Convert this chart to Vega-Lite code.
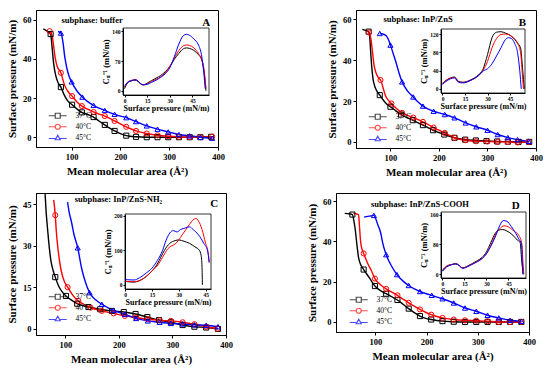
{
"$schema": "https://vega.github.io/schema/vega-lite/v6.json",
"padding": {"left": 5, "top": 9, "right": 0, "bottom": 0},
"config": {
 "view": {"stroke": "black", "strokeWidth": 1},
 "font": "Liberation Serif",
 "axis": {"grid": false, "labelFont": "Liberation Serif", "labelFontWeight": "bold", "labelFontSize": 8.5, "labelColor": "black", "titleFont": "Liberation Serif", "titleFontWeight": "bold", "titleFontSize": 11, "titleColor": "black", "domainColor": "black", "tickColor": "black", "tickSize": 3, "labelPadding": 2, "titlePadding": 5, "labelFlush": false},
 "legend": {"orient": "bottom-left", "title": null, "symbolSize": 25, "symbolStrokeWidth": 1.2, "symbolOffset": 14, "labelOffset": 14, "labelFont": "Liberation Serif", "labelFontSize": 7.5, "labelColor": "black", "rowPadding": 0, "padding": 0}
},
"datasets": {
 "A_line": [
  {"T":"37°C","x":42,"y":55.4},{"T":"37°C","x":50,"y":54.2},{"T":"37°C","x":57,"y":52.7},{"T":"37°C","x":60,"y":46},{"T":"37°C","x":63,"y":38},{"T":"37°C","x":67,"y":32},{"T":"37°C","x":72,"y":28},{"T":"37°C","x":78,"y":25.6},{"T":"37°C","x":85,"y":21.5},{"T":"37°C","x":92,"y":18.6},{"T":"37°C","x":101,"y":16.6},{"T":"37°C","x":110,"y":14.6},{"T":"37°C","x":121,"y":12.7},{"T":"37°C","x":133,"y":11.6},{"T":"37°C","x":145,"y":10.3},{"T":"37°C","x":156,"y":8.3},{"T":"37°C","x":168,"y":6.3},{"T":"37°C","x":178,"y":4.6},{"T":"37°C","x":188,"y":3.2},{"T":"37°C","x":200,"y":1.8},{"T":"37°C","x":212,"y":0.8},{"T":"37°C","x":232,"y":0.2},{"T":"37°C","x":254,"y":0},{"T":"37°C","x":276,"y":0},{"T":"37°C","x":298,"y":0},{"T":"37°C","x":320,"y":0},{"T":"37°C","x":342,"y":0},{"T":"37°C","x":364,"y":0},{"T":"37°C","x":386,"y":0.2},
  {"T":"40°C","x":55,"y":54.2},{"T":"40°C","x":60,"y":52},{"T":"40°C","x":63,"y":47},{"T":"40°C","x":66,"y":41},{"T":"40°C","x":70,"y":36.5},{"T":"40°C","x":78,"y":32.9},{"T":"40°C","x":85,"y":27},{"T":"40°C","x":92,"y":23.5},{"T":"40°C","x":101,"y":21},{"T":"40°C","x":111,"y":18},{"T":"40°C","x":121,"y":15.9},{"T":"40°C","x":133,"y":14.3},{"T":"40°C","x":145,"y":12.9},{"T":"40°C","x":156,"y":11.8},{"T":"40°C","x":168,"y":10.8},{"T":"40°C","x":178,"y":9.6},{"T":"40°C","x":188,"y":8.3},{"T":"40°C","x":200,"y":6.8},{"T":"40°C","x":212,"y":5.3},{"T":"40°C","x":222,"y":4.2},{"T":"40°C","x":232,"y":3.2},{"T":"40°C","x":254,"y":1.9},{"T":"40°C","x":276,"y":1},{"T":"40°C","x":298,"y":0.5},{"T":"40°C","x":320,"y":0.2},{"T":"40°C","x":342,"y":0},{"T":"40°C","x":364,"y":0},{"T":"40°C","x":388,"y":0.3},
  {"T":"45°C","x":72,"y":54},{"T":"45°C","x":78,"y":53.2},{"T":"45°C","x":82,"y":49},{"T":"45°C","x":86,"y":41},{"T":"45°C","x":90,"y":35.5},{"T":"45°C","x":95,"y":31},{"T":"45°C","x":100,"y":28.3},{"T":"45°C","x":111,"y":23.6},{"T":"45°C","x":122,"y":20.5},{"T":"45°C","x":133,"y":18.2},{"T":"45°C","x":145,"y":16.3},{"T":"45°C","x":156,"y":14.9},{"T":"45°C","x":168,"y":13.7},{"T":"45°C","x":178,"y":12.6},{"T":"45°C","x":188,"y":11.7},{"T":"45°C","x":200,"y":10.8},{"T":"45°C","x":212,"y":10},{"T":"45°C","x":222,"y":9},{"T":"45°C","x":232,"y":8},{"T":"45°C","x":254,"y":5.8},{"T":"45°C","x":276,"y":4.1},{"T":"45°C","x":298,"y":2.7},{"T":"45°C","x":320,"y":1.4},{"T":"45°C","x":342,"y":0.7},{"T":"45°C","x":364,"y":0},{"T":"45°C","x":388,"y":-0.5}
 ],
 "A_pts": [
  {"T":"37°C","x":57,"y":52.7},{"T":"37°C","x":78,"y":25.6},{"T":"37°C","x":101,"y":16.6},{"T":"37°C","x":121,"y":12.7},{"T":"37°C","x":145,"y":10.3},{"T":"37°C","x":168,"y":6.3},{"T":"37°C","x":188,"y":3.2},{"T":"37°C","x":212,"y":0.8},{"T":"37°C","x":232,"y":0.2},{"T":"37°C","x":254,"y":0},{"T":"37°C","x":276,"y":0},{"T":"37°C","x":298,"y":0},{"T":"37°C","x":320,"y":0},{"T":"37°C","x":342,"y":0},{"T":"37°C","x":364,"y":0},{"T":"37°C","x":386,"y":0.2},
  {"T":"40°C","x":55,"y":54.2},{"T":"40°C","x":78,"y":32.9},{"T":"40°C","x":101,"y":21},{"T":"40°C","x":121,"y":15.9},{"T":"40°C","x":145,"y":12.9},{"T":"40°C","x":168,"y":10.8},{"T":"40°C","x":188,"y":8.3},{"T":"40°C","x":212,"y":5.3},{"T":"40°C","x":232,"y":3.2},{"T":"40°C","x":254,"y":1.9},{"T":"40°C","x":276,"y":1},{"T":"40°C","x":298,"y":0.5},{"T":"40°C","x":320,"y":0.2},{"T":"40°C","x":342,"y":0},{"T":"40°C","x":364,"y":0},{"T":"40°C","x":388,"y":0.3},
  {"T":"45°C","x":78,"y":53.2},{"T":"45°C","x":100,"y":28.3},{"T":"45°C","x":122,"y":20.5},{"T":"45°C","x":145,"y":16.3},{"T":"45°C","x":168,"y":13.7},{"T":"45°C","x":188,"y":11.7},{"T":"45°C","x":212,"y":10},{"T":"45°C","x":232,"y":8},{"T":"45°C","x":254,"y":5.8},{"T":"45°C","x":276,"y":4.1},{"T":"45°C","x":298,"y":2.7},{"T":"45°C","x":320,"y":1.4},{"T":"45°C","x":342,"y":0.7},{"T":"45°C","x":364,"y":0},{"T":"45°C","x":388,"y":-0.5}
 ],
 "A_in": [
  {"T":"37°C","x":0,"y":5},{"T":"37°C","x":2,"y":18},{"T":"37°C","x":5,"y":24},{"T":"37°C","x":7,"y":25},{"T":"37°C","x":9,"y":22},{"T":"37°C","x":10,"y":18},{"T":"37°C","x":11,"y":15},{"T":"37°C","x":12.5,"y":14},{"T":"37°C","x":15,"y":18},{"T":"37°C","x":18,"y":24},{"T":"37°C","x":21,"y":30},{"T":"37°C","x":24,"y":36},{"T":"37°C","x":27,"y":45},{"T":"37°C","x":30,"y":57},{"T":"37°C","x":33,"y":74},{"T":"37°C","x":36,"y":88},{"T":"37°C","x":39,"y":99},{"T":"37°C","x":41,"y":101},{"T":"37°C","x":43,"y":100},{"T":"37°C","x":46,"y":95},{"T":"37°C","x":49,"y":85},{"T":"37°C","x":51,"y":75},{"T":"37°C","x":52.5,"y":50},{"T":"37°C","x":53.5,"y":20},{"T":"37°C","x":54,"y":0},
  {"T":"40°C","x":0,"y":8},{"T":"40°C","x":2,"y":20},{"T":"40°C","x":5,"y":25},{"T":"40°C","x":7,"y":26},{"T":"40°C","x":9,"y":23},{"T":"40°C","x":10,"y":19},{"T":"40°C","x":11,"y":16},{"T":"40°C","x":12.5,"y":14},{"T":"40°C","x":15,"y":16},{"T":"40°C","x":18,"y":22},{"T":"40°C","x":21,"y":27},{"T":"40°C","x":24,"y":33},{"T":"40°C","x":27,"y":42},{"T":"40°C","x":30,"y":57},{"T":"40°C","x":33,"y":77},{"T":"40°C","x":36,"y":95},{"T":"40°C","x":39,"y":106},{"T":"40°C","x":41,"y":108},{"T":"40°C","x":43,"y":107},{"T":"40°C","x":46,"y":101},{"T":"40°C","x":49,"y":88},{"T":"40°C","x":51,"y":75},{"T":"40°C","x":52.5,"y":55},{"T":"40°C","x":53.5,"y":25},{"T":"40°C","x":54,"y":5},
  {"T":"45°C","x":0,"y":10},{"T":"45°C","x":2,"y":20},{"T":"45°C","x":5,"y":24},{"T":"45°C","x":7,"y":26},{"T":"45°C","x":9,"y":23},{"T":"45°C","x":10,"y":19},{"T":"45°C","x":11,"y":16},{"T":"45°C","x":12.5,"y":14},{"T":"45°C","x":15,"y":15},{"T":"45°C","x":18,"y":20},{"T":"45°C","x":21,"y":25},{"T":"45°C","x":24,"y":32},{"T":"45°C","x":27,"y":40},{"T":"45°C","x":30,"y":54},{"T":"45°C","x":33,"y":80},{"T":"45°C","x":36,"y":110},{"T":"45°C","x":39,"y":130},{"T":"45°C","x":41,"y":133},{"T":"45°C","x":43,"y":131},{"T":"45°C","x":46,"y":122},{"T":"45°C","x":49,"y":108},{"T":"45°C","x":51,"y":85},{"T":"45°C","x":52,"y":60},{"T":"45°C","x":53,"y":25},{"T":"45°C","x":53.5,"y":5}
 ],
 "B_line": [
  {"T":"37°C","x":42,"y":55.1},{"T":"37°C","x":50,"y":54.5},{"T":"37°C","x":55,"y":54},{"T":"37°C","x":57,"y":52},{"T":"37°C","x":59,"y":45},{"T":"37°C","x":61,"y":38},{"T":"37°C","x":64,"y":31},{"T":"37°C","x":68,"y":27},{"T":"37°C","x":73,"y":24.5},{"T":"37°C","x":78,"y":22.9},{"T":"37°C","x":85,"y":20.5},{"T":"37°C","x":92,"y":18.6},{"T":"37°C","x":100,"y":17.2},{"T":"37°C","x":111,"y":15.2},{"T":"37°C","x":122,"y":13.4},{"T":"37°C","x":134,"y":11.9},{"T":"37°C","x":146,"y":10.6},{"T":"37°C","x":156,"y":9.4},{"T":"37°C","x":167,"y":8.2},{"T":"37°C","x":177,"y":7},{"T":"37°C","x":188,"y":5.7},{"T":"37°C","x":200,"y":4.6},{"T":"37°C","x":211,"y":3.6},{"T":"37°C","x":222,"y":2.7},{"T":"37°C","x":232,"y":2},{"T":"37°C","x":254,"y":1.1},{"T":"37°C","x":276,"y":0.7},{"T":"37°C","x":298,"y":0.4},{"T":"37°C","x":320,"y":0.2},{"T":"37°C","x":342,"y":0.1},{"T":"37°C","x":364,"y":0},{"T":"37°C","x":386,"y":0},
  {"T":"40°C","x":54,"y":54},{"T":"40°C","x":56,"y":53.6},{"T":"40°C","x":60,"y":50},{"T":"40°C","x":63,"y":44},{"T":"40°C","x":66,"y":38},{"T":"40°C","x":70,"y":34},{"T":"40°C","x":75,"y":31.5},{"T":"40°C","x":79.5,"y":30.3},{"T":"40°C","x":90,"y":22.5},{"T":"40°C","x":102,"y":18.8},{"T":"40°C","x":113,"y":16.2},{"T":"40°C","x":124,"y":14.2},{"T":"40°C","x":135,"y":13},{"T":"40°C","x":147,"y":11.9},{"T":"40°C","x":157,"y":10.9},{"T":"40°C","x":167,"y":9.8},{"T":"40°C","x":178,"y":8.5},{"T":"40°C","x":189,"y":7},{"T":"40°C","x":200,"y":5.7},{"T":"40°C","x":212,"y":4.4},{"T":"40°C","x":222,"y":3.2},{"T":"40°C","x":232,"y":2},{"T":"40°C","x":255,"y":0.8},{"T":"40°C","x":277,"y":0.3},{"T":"40°C","x":300,"y":0.2},{"T":"40°C","x":321,"y":0},{"T":"40°C","x":342,"y":0},{"T":"40°C","x":362,"y":-0.3},{"T":"40°C","x":385,"y":0},
  {"T":"45°C","x":78,"y":53.1},{"T":"45°C","x":85,"y":52.8},{"T":"45°C","x":92,"y":51.8},{"T":"45°C","x":96,"y":50},{"T":"45°C","x":100,"y":47.4},{"T":"45°C","x":106,"y":43},{"T":"45°C","x":112,"y":38.5},{"T":"45°C","x":118,"y":33.5},{"T":"45°C","x":124,"y":29.4},{"T":"45°C","x":135,"y":25},{"T":"45°C","x":147,"y":22},{"T":"45°C","x":157,"y":19.5},{"T":"45°C","x":167,"y":17.5},{"T":"45°C","x":178,"y":16},{"T":"45°C","x":189,"y":15},{"T":"45°C","x":200,"y":14.2},{"T":"45°C","x":212,"y":13.4},{"T":"45°C","x":232,"y":11.8},{"T":"45°C","x":255,"y":9.3},{"T":"45°C","x":277,"y":7.4},{"T":"45°C","x":300,"y":5.7},{"T":"45°C","x":321,"y":3.6},{"T":"45°C","x":342,"y":2.1},{"T":"45°C","x":362,"y":1.1},{"T":"45°C","x":385,"y":0.3}
 ],
 "B_pts": [
  {"T":"37°C","x":55,"y":54},{"T":"37°C","x":78,"y":22.9},{"T":"37°C","x":100,"y":17.2},{"T":"37°C","x":122,"y":13.4},{"T":"37°C","x":146,"y":10.6},{"T":"37°C","x":167,"y":8.2},{"T":"37°C","x":188,"y":5.7},{"T":"37°C","x":211,"y":3.6},{"T":"37°C","x":232,"y":2},{"T":"37°C","x":254,"y":1.1},{"T":"37°C","x":276,"y":0.7},{"T":"37°C","x":298,"y":0.4},{"T":"37°C","x":320,"y":0.2},{"T":"37°C","x":342,"y":0.1},{"T":"37°C","x":364,"y":0},{"T":"37°C","x":386,"y":0},
  {"T":"40°C","x":56,"y":53.6},{"T":"40°C","x":79.5,"y":30.3},{"T":"40°C","x":102,"y":18.8},{"T":"40°C","x":124,"y":14.2},{"T":"40°C","x":147,"y":11.9},{"T":"40°C","x":167,"y":9.8},{"T":"40°C","x":189,"y":7},{"T":"40°C","x":212,"y":4.4},{"T":"40°C","x":232,"y":2},{"T":"40°C","x":255,"y":0.8},{"T":"40°C","x":277,"y":0.3},{"T":"40°C","x":300,"y":0.2},{"T":"40°C","x":321,"y":0},{"T":"40°C","x":342,"y":0},{"T":"40°C","x":362,"y":-0.3},{"T":"40°C","x":385,"y":0},
  {"T":"45°C","x":78,"y":53.1},{"T":"45°C","x":100,"y":47.4},{"T":"45°C","x":124,"y":29.4},{"T":"45°C","x":147,"y":22},{"T":"45°C","x":167,"y":17.5},{"T":"45°C","x":189,"y":15},{"T":"45°C","x":212,"y":13.4},{"T":"45°C","x":232,"y":11.8},{"T":"45°C","x":255,"y":9.3},{"T":"45°C","x":277,"y":7.4},{"T":"45°C","x":300,"y":5.7},{"T":"45°C","x":321,"y":3.6},{"T":"45°C","x":342,"y":2.1},{"T":"45°C","x":362,"y":1.1},{"T":"45°C","x":385,"y":0.3}
 ],
 "B_in": [
  {"T":"37°C","x":0,"y":12},{"T":"37°C","x":3,"y":20},{"T":"37°C","x":8,"y":26},{"T":"37°C","x":10.5,"y":17},{"T":"37°C","x":13.6,"y":14.5},{"T":"37°C","x":19,"y":20},{"T":"37°C","x":24,"y":31},{"T":"37°C","x":27,"y":43},{"T":"37°C","x":30,"y":75},{"T":"37°C","x":33,"y":112},{"T":"37°C","x":36,"y":124},{"T":"37°C","x":39,"y":125},{"T":"37°C","x":42,"y":122},{"T":"37°C","x":46,"y":115},{"T":"37°C","x":50,"y":100},{"T":"37°C","x":52,"y":90},{"T":"37°C","x":53.5,"y":40},{"T":"37°C","x":54.5,"y":0},
  {"T":"40°C","x":0,"y":12},{"T":"40°C","x":3,"y":20},{"T":"40°C","x":8,"y":25},{"T":"40°C","x":10.5,"y":16},{"T":"40°C","x":13.6,"y":14},{"T":"40°C","x":19,"y":19},{"T":"40°C","x":24,"y":29},{"T":"40°C","x":27,"y":40},{"T":"40°C","x":30,"y":60},{"T":"40°C","x":33,"y":90},{"T":"40°C","x":36,"y":110},{"T":"40°C","x":39,"y":119},{"T":"40°C","x":42,"y":120},{"T":"40°C","x":46,"y":115},{"T":"40°C","x":50,"y":100},{"T":"40°C","x":52,"y":80},{"T":"40°C","x":53.5,"y":20},{"T":"40°C","x":54,"y":0},
  {"T":"45°C","x":0,"y":10},{"T":"45°C","x":3,"y":18},{"T":"45°C","x":8,"y":24},{"T":"45°C","x":10.5,"y":15},{"T":"45°C","x":13.6,"y":13},{"T":"45°C","x":19,"y":19},{"T":"45°C","x":24,"y":29},{"T":"45°C","x":27.5,"y":40},{"T":"45°C","x":30,"y":44},{"T":"45°C","x":33,"y":55},{"T":"45°C","x":36,"y":72},{"T":"45°C","x":39,"y":90},{"T":"45°C","x":42,"y":108},{"T":"45°C","x":44,"y":112},{"T":"45°C","x":46,"y":110},{"T":"45°C","x":48,"y":100},{"T":"45°C","x":50,"y":80},{"T":"45°C","x":51.5,"y":40},{"T":"45°C","x":52.5,"y":0}
 ],
 "C_line": [
  {"T":"37°C","x":62,"y":48.6},{"T":"37°C","x":64,"y":42},{"T":"37°C","x":67,"y":35.2},{"T":"37°C","x":70,"y":29},{"T":"37°C","x":73,"y":24.4},{"T":"37°C","x":77,"y":21},{"T":"37°C","x":81,"y":18.6},{"T":"37°C","x":87,"y":15.5},{"T":"37°C","x":94,"y":13.3},{"T":"37°C","x":101,"y":11.8},{"T":"37°C","x":112,"y":10.2},{"T":"37°C","x":122,"y":9},{"T":"37°C","x":143,"y":7.8},{"T":"37°C","x":165,"y":7},{"T":"37°C","x":187,"y":6.4},{"T":"37°C","x":209,"y":6},{"T":"37°C","x":231,"y":5.3},{"T":"37°C","x":253,"y":4.2},{"T":"37°C","x":275,"y":3.1},{"T":"37°C","x":297,"y":2.3},{"T":"37°C","x":319,"y":1.3},{"T":"37°C","x":341,"y":0.7},{"T":"37°C","x":363,"y":0.4},{"T":"37°C","x":385,"y":-0.1},
  {"T":"40°C","x":78,"y":46.5},{"T":"40°C","x":81,"y":41},{"T":"40°C","x":83,"y":35},{"T":"40°C","x":86,"y":29},{"T":"40°C","x":92,"y":21},{"T":"40°C","x":98,"y":17},{"T":"40°C","x":104,"y":15},{"T":"40°C","x":114,"y":12},{"T":"40°C","x":124,"y":10},{"T":"40°C","x":135,"y":8.7},{"T":"40°C","x":147,"y":7.6},{"T":"40°C","x":168,"y":6.4},{"T":"40°C","x":190,"y":5.5},{"T":"40°C","x":211,"y":4.6},{"T":"40°C","x":232,"y":4},{"T":"40°C","x":254,"y":3.4},{"T":"40°C","x":276,"y":3},{"T":"40°C","x":297,"y":2.8},{"T":"40°C","x":319,"y":2.3},{"T":"40°C","x":341,"y":1.6},{"T":"40°C","x":363,"y":0.7},{"T":"40°C","x":384,"y":0},
  {"T":"45°C","x":104,"y":45.7},{"T":"45°C","x":107,"y":42},{"T":"45°C","x":111,"y":38.8},{"T":"45°C","x":116,"y":34},{"T":"45°C","x":123,"y":29.2},{"T":"45°C","x":130,"y":22},{"T":"45°C","x":137,"y":17},{"T":"45°C","x":145,"y":13},{"T":"45°C","x":156,"y":10.5},{"T":"45°C","x":168,"y":8.8},{"T":"45°C","x":179,"y":7.6},{"T":"45°C","x":190,"y":6.6},{"T":"45°C","x":211,"y":5.2},{"T":"45°C","x":232,"y":3.7},{"T":"45°C","x":254,"y":2.8},{"T":"45°C","x":276,"y":2.3},{"T":"45°C","x":297,"y":1.9},{"T":"45°C","x":319,"y":1.7},{"T":"45°C","x":341,"y":1.4},{"T":"45°C","x":363,"y":1.2},{"T":"45°C","x":385,"y":0.7}
 ],
 "C_pts": [
  {"T":"37°C","x":81,"y":18.6},{"T":"37°C","x":101,"y":11.8},{"T":"37°C","x":122,"y":9},{"T":"37°C","x":143,"y":7.8},{"T":"37°C","x":165,"y":7},{"T":"37°C","x":187,"y":6.4},{"T":"37°C","x":209,"y":6},{"T":"37°C","x":231,"y":5.3},{"T":"37°C","x":253,"y":4.2},{"T":"37°C","x":275,"y":3.1},{"T":"37°C","x":297,"y":2.3},{"T":"37°C","x":319,"y":1.3},{"T":"37°C","x":341,"y":0.7},{"T":"37°C","x":363,"y":0.4},{"T":"37°C","x":385,"y":-0.1},
  {"T":"40°C","x":81,"y":41},{"T":"40°C","x":104,"y":15},{"T":"40°C","x":124,"y":10},{"T":"40°C","x":147,"y":7.6},{"T":"40°C","x":168,"y":6.4},{"T":"40°C","x":190,"y":5.5},{"T":"40°C","x":211,"y":4.6},{"T":"40°C","x":232,"y":4},{"T":"40°C","x":254,"y":3.4},{"T":"40°C","x":276,"y":3},{"T":"40°C","x":297,"y":2.8},{"T":"40°C","x":319,"y":2.3},{"T":"40°C","x":341,"y":1.6},{"T":"40°C","x":363,"y":0.7},{"T":"40°C","x":384,"y":0},
  {"T":"45°C","x":123,"y":29.2},{"T":"45°C","x":145,"y":13},{"T":"45°C","x":168,"y":8.8},{"T":"45°C","x":190,"y":6.6},{"T":"45°C","x":211,"y":5.2},{"T":"45°C","x":232,"y":3.7},{"T":"45°C","x":254,"y":2.8},{"T":"45°C","x":276,"y":2.3},{"T":"45°C","x":297,"y":1.9},{"T":"45°C","x":319,"y":1.7},{"T":"45°C","x":341,"y":1.4},{"T":"45°C","x":363,"y":1.2},{"T":"45°C","x":385,"y":0.7}
 ],
 "C_in": [
  {"T":"37°C","x":0,"y":10},{"T":"37°C","x":5,"y":8},{"T":"37°C","x":8,"y":12},{"T":"37°C","x":12,"y":25},{"T":"37°C","x":15,"y":40},{"T":"37°C","x":18,"y":60},{"T":"37°C","x":20,"y":80},{"T":"37°C","x":22,"y":100},{"T":"37°C","x":25,"y":120},{"T":"37°C","x":28,"y":128},{"T":"37°C","x":30,"y":130},{"T":"37°C","x":33,"y":126},{"T":"37°C","x":36,"y":120},{"T":"37°C","x":39,"y":110},{"T":"37°C","x":41.5,"y":100},{"T":"37°C","x":42.5,"y":85},{"T":"37°C","x":43,"y":50},{"T":"37°C","x":43.2,"y":0},
  {"T":"40°C","x":0,"y":10},{"T":"40°C","x":5,"y":9},{"T":"40°C","x":8,"y":12},{"T":"40°C","x":12,"y":25},{"T":"40°C","x":15,"y":40},{"T":"40°C","x":18,"y":55},{"T":"40°C","x":21,"y":80},{"T":"40°C","x":24,"y":105},{"T":"40°C","x":26,"y":113},{"T":"40°C","x":28,"y":118},{"T":"40°C","x":30,"y":130},{"T":"40°C","x":32,"y":145},{"T":"40°C","x":34,"y":160},{"T":"40°C","x":36,"y":175},{"T":"40°C","x":38,"y":188},{"T":"40°C","x":39.5,"y":192},{"T":"40°C","x":41,"y":185},{"T":"40°C","x":43,"y":160},{"T":"40°C","x":45,"y":120},{"T":"40°C","x":46.5,"y":90},{"T":"40°C","x":47,"y":65},
  {"T":"45°C","x":0,"y":15},{"T":"45°C","x":5,"y":14},{"T":"45°C","x":8,"y":20},{"T":"45°C","x":12,"y":35},{"T":"45°C","x":15,"y":48},{"T":"45°C","x":18,"y":70},{"T":"45°C","x":21,"y":100},{"T":"45°C","x":23,"y":130},{"T":"45°C","x":25,"y":150},{"T":"45°C","x":27,"y":157},{"T":"45°C","x":29,"y":153},{"T":"45°C","x":31,"y":160},{"T":"45°C","x":34,"y":165},{"T":"45°C","x":36,"y":168},{"T":"45°C","x":38,"y":160},{"T":"45°C","x":41,"y":145},{"T":"45°C","x":44,"y":120},{"T":"45°C","x":46,"y":100},{"T":"45°C","x":47,"y":65}
 ],
 "D_line": [
  {"T":"37°C","x":40,"y":53.9},{"T":"37°C","x":50,"y":53.6},{"T":"37°C","x":55,"y":53.3},{"T":"37°C","x":58,"y":50},{"T":"37°C","x":61,"y":45},{"T":"37°C","x":64,"y":38},{"T":"37°C","x":67,"y":32},{"T":"37°C","x":72,"y":28},{"T":"37°C","x":77,"y":26},{"T":"37°C","x":88,"y":22},{"T":"37°C","x":99,"y":17.8},{"T":"37°C","x":110,"y":15.5},{"T":"37°C","x":121,"y":14},{"T":"37°C","x":132,"y":12.5},{"T":"37°C","x":143,"y":10.9},{"T":"37°C","x":154,"y":8.8},{"T":"37°C","x":165,"y":6.6},{"T":"37°C","x":176,"y":4.6},{"T":"37°C","x":187,"y":2.9},{"T":"37°C","x":198,"y":1.8},{"T":"37°C","x":209,"y":1.2},{"T":"37°C","x":231,"y":0.4},{"T":"37°C","x":253,"y":0.1},{"T":"37°C","x":275,"y":0},{"T":"37°C","x":297,"y":0},{"T":"37°C","x":319,"y":0},{"T":"37°C","x":341,"y":0},{"T":"37°C","x":363,"y":0},{"T":"37°C","x":385,"y":0},
  {"T":"40°C","x":57,"y":53.9},{"T":"40°C","x":63,"y":53.6},{"T":"40°C","x":67,"y":53.3},{"T":"40°C","x":69,"y":47},{"T":"40°C","x":71,"y":40},{"T":"40°C","x":74,"y":36},{"T":"40°C","x":77,"y":34},{"T":"40°C","x":85,"y":29},{"T":"40°C","x":92,"y":25.5},{"T":"40°C","x":99,"y":21.5},{"T":"40°C","x":110,"y":18.5},{"T":"40°C","x":121,"y":16.4},{"T":"40°C","x":132,"y":14.8},{"T":"40°C","x":143,"y":13.2},{"T":"40°C","x":154,"y":11.3},{"T":"40°C","x":165,"y":9.5},{"T":"40°C","x":176,"y":7.8},{"T":"40°C","x":187,"y":6.2},{"T":"40°C","x":198,"y":4.8},{"T":"40°C","x":209,"y":3.6},{"T":"40°C","x":220,"y":2.7},{"T":"40°C","x":231,"y":2},{"T":"40°C","x":253,"y":1.2},{"T":"40°C","x":275,"y":0.8},{"T":"40°C","x":297,"y":0.6},{"T":"40°C","x":319,"y":0.3},{"T":"40°C","x":341,"y":0},{"T":"40°C","x":363,"y":-0.1},{"T":"40°C","x":385,"y":0},
  {"T":"45°C","x":78,"y":52.1},{"T":"45°C","x":88,"y":52.5},{"T":"45°C","x":97,"y":52.9},{"T":"45°C","x":101,"y":51},{"T":"45°C","x":105,"y":48},{"T":"45°C","x":110,"y":44.5},{"T":"45°C","x":114,"y":39.5},{"T":"45°C","x":117,"y":36.5},{"T":"45°C","x":121,"y":33.4},{"T":"45°C","x":132,"y":27.5},{"T":"45°C","x":142,"y":23.5},{"T":"45°C","x":153,"y":20.5},{"T":"45°C","x":165,"y":18.1},{"T":"45°C","x":176,"y":16.4},{"T":"45°C","x":187,"y":15.1},{"T":"45°C","x":198,"y":14.1},{"T":"45°C","x":210,"y":13.2},{"T":"45°C","x":231,"y":11.5},{"T":"45°C","x":253,"y":9.4},{"T":"45°C","x":275,"y":6.9},{"T":"45°C","x":297,"y":5.3},{"T":"45°C","x":319,"y":3.3},{"T":"45°C","x":341,"y":2},{"T":"45°C","x":363,"y":0.8},{"T":"45°C","x":385,"y":0.3}
 ],
 "D_pts": [
  {"T":"37°C","x":55,"y":53.3},{"T":"37°C","x":77,"y":26},{"T":"37°C","x":99,"y":17.8},{"T":"37°C","x":121,"y":14},{"T":"37°C","x":143,"y":10.9},{"T":"37°C","x":165,"y":6.6},{"T":"37°C","x":187,"y":2.9},{"T":"37°C","x":209,"y":1.2},{"T":"37°C","x":231,"y":0.4},{"T":"37°C","x":253,"y":0.1},{"T":"37°C","x":275,"y":0},{"T":"37°C","x":297,"y":0},{"T":"37°C","x":319,"y":0},{"T":"37°C","x":341,"y":0},{"T":"37°C","x":363,"y":0},{"T":"37°C","x":385,"y":0},
  {"T":"40°C","x":77,"y":34},{"T":"40°C","x":99,"y":21.5},{"T":"40°C","x":121,"y":16.4},{"T":"40°C","x":143,"y":13.2},{"T":"40°C","x":165,"y":9.5},{"T":"40°C","x":187,"y":6.2},{"T":"40°C","x":209,"y":3.6},{"T":"40°C","x":231,"y":2},{"T":"40°C","x":253,"y":1.2},{"T":"40°C","x":275,"y":0.8},{"T":"40°C","x":297,"y":0.6},{"T":"40°C","x":319,"y":0.3},{"T":"40°C","x":341,"y":0},{"T":"40°C","x":363,"y":-0.1},{"T":"40°C","x":385,"y":0},
  {"T":"45°C","x":97,"y":52.9},{"T":"45°C","x":121,"y":33.4},{"T":"45°C","x":142,"y":23.5},{"T":"45°C","x":165,"y":18.1},{"T":"45°C","x":187,"y":15.1},{"T":"45°C","x":210,"y":13.2},{"T":"45°C","x":231,"y":11.5},{"T":"45°C","x":253,"y":9.4},{"T":"45°C","x":275,"y":6.9},{"T":"45°C","x":297,"y":5.3},{"T":"45°C","x":319,"y":3.3},{"T":"45°C","x":341,"y":2},{"T":"45°C","x":363,"y":0.8},{"T":"45°C","x":385,"y":0.3}
 ],
 "D_in": [
  {"T":"37°C","x":0,"y":10},{"T":"37°C","x":3,"y":22},{"T":"37°C","x":6,"y":26},{"T":"37°C","x":9,"y":28},{"T":"37°C","x":11,"y":25},{"T":"37°C","x":12.5,"y":19},{"T":"37°C","x":14,"y":17},{"T":"37°C","x":17,"y":22},{"T":"37°C","x":20,"y":28},{"T":"37°C","x":24,"y":37},{"T":"37°C","x":27,"y":45},{"T":"37°C","x":30,"y":60},{"T":"37°C","x":33,"y":85},{"T":"37°C","x":36,"y":110},{"T":"37°C","x":38,"y":118},{"T":"37°C","x":41,"y":120},{"T":"37°C","x":44,"y":116},{"T":"37°C","x":48,"y":105},{"T":"37°C","x":51,"y":92},{"T":"37°C","x":53,"y":85},{"T":"37°C","x":54,"y":40},{"T":"37°C","x":55,"y":0},
  {"T":"40°C","x":0,"y":12},{"T":"40°C","x":3,"y":22},{"T":"40°C","x":6,"y":26},{"T":"40°C","x":9,"y":28},{"T":"40°C","x":11,"y":25},{"T":"40°C","x":12.5,"y":19},{"T":"40°C","x":14,"y":17},{"T":"40°C","x":17,"y":21},{"T":"40°C","x":20,"y":27},{"T":"40°C","x":24,"y":35},{"T":"40°C","x":27,"y":42},{"T":"40°C","x":30,"y":55},{"T":"40°C","x":33,"y":78},{"T":"40°C","x":36,"y":105},{"T":"40°C","x":39,"y":122},{"T":"40°C","x":42,"y":130},{"T":"40°C","x":45,"y":127},{"T":"40°C","x":49,"y":115},{"T":"40°C","x":52,"y":105},{"T":"40°C","x":54,"y":85},{"T":"40°C","x":55,"y":30},{"T":"40°C","x":55.5,"y":0},
  {"T":"45°C","x":0,"y":8},{"T":"45°C","x":3,"y":20},{"T":"45°C","x":6,"y":25},{"T":"45°C","x":9,"y":28},{"T":"45°C","x":11,"y":25},{"T":"45°C","x":12.5,"y":19},{"T":"45°C","x":14,"y":16},{"T":"45°C","x":17,"y":20},{"T":"45°C","x":20,"y":26},{"T":"45°C","x":24,"y":34},{"T":"45°C","x":27,"y":42},{"T":"45°C","x":30,"y":55},{"T":"45°C","x":33,"y":75},{"T":"45°C","x":36,"y":100},{"T":"45°C","x":39,"y":130},{"T":"45°C","x":41.5,"y":144},{"T":"45°C","x":44,"y":142},{"T":"45°C","x":47,"y":128},{"T":"45°C","x":50,"y":110},{"T":"45°C","x":52,"y":95},{"T":"45°C","x":54,"y":80},{"T":"45°C","x":54.5,"y":30},{"T":"45°C","x":55,"y":0}
 ],
 "series": [{"T":"37°C"},{"T":"40°C"},{"T":"45°C"}]
},
"vconcat": [
 {"hconcat": [
  {"width": 182, "height": 137,
   "layer": [
    {"layer": [
     {"data": {"name": "A_line"}, "mark": {"type": "line", "strokeWidth": 1.4, "interpolate": "monotone"},
      "encoding": {
       "x": {"field": "x", "type": "quantitative", "scale": {"domain": [27, 400], "nice": false, "zero": false}, "axis": {"values": [100, 200, 300, 400], "title": "Mean molecular area  (Å²)"}},
       "y": {"field": "y", "type": "quantitative", "scale": {"domain": [-5, 65], "nice": false, "zero": false}, "axis": {"values": [0, 20, 40, 60], "title": "Surface pressure (mN/m)"}},
       "color": {"field": "T", "type": "nominal", "scale": {"domain": ["37°C", "40°C", "45°C"], "range": ["black", "#ff0000", "#0000ff"]}, "legend": null}}},
     {"data": {"name": "A_pts"}, "mark": {"type": "point", "filled": false, "size": 26, "strokeWidth": 1, "opacity": 1},
      "encoding": {
       "x": {"field": "x", "type": "quantitative"},
       "y": {"field": "y", "type": "quantitative"},
       "color": {"field": "T", "type": "nominal", "legend": null},
       "shape": {"field": "T", "type": "nominal", "scale": {"domain": ["37°C", "40°C", "45°C"], "range": ["square", "circle", "triangle-up"]}, "legend": null}}},
     {"data": {"values": [{}]}, "mark": {"type": "text", "align": "center", "baseline": "middle", "fontWeight": "bold", "fontSize": 8.5, "font": "Liberation Serif"},
      "encoding": {"x": {"datum": 142, "type": "quantitative"}, "y": {"datum": 59.7, "type": "quantitative"}, "text": {"value": "subphase: buffer"}}},
     {"data": {"values": [{}]}, "mark": {"type": "text", "align": "center", "baseline": "middle", "fontWeight": "bold", "fontSize": 11, "font": "Liberation Serif"},
      "encoding": {"x": {"datum": 376, "type": "quantitative"}, "y": {"datum": 58.3, "type": "quantitative"}, "text": {"value": "A"}}}
    ]},
    {"layer": [
     {"data": {"name": "A_in"}, "mark": {"type": "line", "strokeWidth": 1, "interpolate": "monotone"},
      "encoding": {
       "x": {"field": "x", "type": "quantitative", "scale": {"domain": [-1, 56], "range": [87, 173], "nice": false, "zero": false}, "axis": {"orient": "bottom", "offset": -52, "values": [0, 15, 30, 45], "title": "Surface pressure (mN/m)", "titleFontSize": 8, "labelFontSize": 5.5, "tickSize": 2, "labelPadding": 1, "titlePadding": 1}},
       "y": {"field": "y", "type": "quantitative", "scale": {"domain": [-10, 148], "range": [85, 18], "nice": false, "zero": false}, "axis": {"orient": "left", "offset": -87, "values": [0, 35, 70, 105, 140], "title": "Cₛ⁻¹ (mN/m)", "titleFontSize": 8.5, "labelFontSize": 5.5, "tickSize": 2, "labelPadding": 1, "titlePadding": 1}},
       "color": {"field": "T", "type": "nominal", "legend": null}}},
     {"data": {"values": [{}]}, "mark": {"type": "rect", "filled": false, "stroke": "black", "strokeWidth": 0.8},
      "encoding": {"x": {"datum": -1, "type": "quantitative"}, "x2": {"datum": 56}, "y": {"datum": -10, "type": "quantitative"}, "y2": {"datum": 148}}}
    ]},
    {"data": {"name": "series"}, "transform": [{"filter": "false"}], "mark": {"type": "point", "filled": false, "strokeWidth": 1},
     "encoding": {
      "stroke": {"field": "T", "type": "nominal", "scale": {"domain": ["37°C", "40°C", "45°C"], "range": ["black", "#ff0000", "#0000ff"]}, "legend": {"offset": 4}},
      "shape": {"field": "T", "type": "nominal", "scale": {"domain": ["37°C", "40°C", "45°C"], "range": ["M-3.6,0H-1M1,0H3.6M-1,-1H1V1H-1Z", "M-3.6,0H-1M1,0H3.6M-1,0A1,1,0,1,0,1,0A1,1,0,1,0,-1,0Z", "M-3.6,0.3H-0.85M0.85,0.3H3.6M0,-1L1,0.8H-1Z"]}, "legend": {"offset": 4}}}}
   ],
   "resolve": {"scale": {"x": "independent", "y": "independent", "shape": "independent", "stroke": "independent"}}
  },
  {"width": 180, "height": 138,
   "layer": [
    {"layer": [
     {"data": {"name": "B_line"}, "mark": {"type": "line", "strokeWidth": 1.4, "interpolate": "monotone"},
      "encoding": {
       "x": {"field": "x", "type": "quantitative", "scale": {"domain": [29, 400], "nice": false, "zero": false}, "axis": {"values": [100, 200, 300, 400], "title": "Mean molecular area  (Å²)"}},
       "y": {"field": "y", "type": "quantitative", "scale": {"domain": [-3, 64.6], "nice": false, "zero": false}, "axis": {"values": [0, 20, 40, 60], "title": "Surface pressure (mN/m)"}},
       "color": {"field": "T", "type": "nominal", "scale": {"domain": ["37°C", "40°C", "45°C"], "range": ["black", "#ff0000", "#0000ff"]}, "legend": null}}},
     {"data": {"name": "B_pts"}, "mark": {"type": "point", "filled": false, "size": 26, "strokeWidth": 1, "opacity": 1},
      "encoding": {
       "x": {"field": "x", "type": "quantitative"},
       "y": {"field": "y", "type": "quantitative"},
       "color": {"field": "T", "type": "nominal", "legend": null},
       "shape": {"field": "T", "type": "nominal", "scale": {"domain": ["37°C", "40°C", "45°C"], "range": ["square", "circle", "triangle-up"]}, "legend": null}}},
     {"data": {"values": [{}]}, "mark": {"type": "text", "align": "center", "baseline": "middle", "fontWeight": "bold", "fontSize": 8.5, "font": "Liberation Serif"},
      "encoding": {"x": {"datum": 157, "type": "quantitative"}, "y": {"datum": 60.2, "type": "quantitative"}, "text": {"value": "subphase: InP/ZnS"}}},
     {"data": {"values": [{}]}, "mark": {"type": "text", "align": "center", "baseline": "middle", "fontWeight": "bold", "fontSize": 11, "font": "Liberation Serif"},
      "encoding": {"x": {"datum": 372, "type": "quantitative"}, "y": {"datum": 58, "type": "quantitative"}, "text": {"value": "B"}}}
    ]},
    {"layer": [
     {"data": {"name": "B_in"}, "mark": {"type": "line", "strokeWidth": 1, "interpolate": "monotone"},
      "encoding": {
       "x": {"field": "x", "type": "quantitative", "scale": {"domain": [-1, 55], "range": [85, 169], "nice": false, "zero": false}, "axis": {"orient": "bottom", "offset": -55, "values": [0, 15, 30, 45], "title": "Surface pressure (mN/m)", "titleFontSize": 8, "labelFontSize": 5.5, "tickSize": 2, "labelPadding": 1, "titlePadding": 1}},
       "y": {"field": "y", "type": "quantitative", "scale": {"domain": [-9, 131], "range": [83, 19], "nice": false, "zero": false}, "axis": {"orient": "left", "offset": -85, "values": [0, 40, 80, 120], "title": "Cₛ⁻¹ (mN/m)", "titleFontSize": 8.5, "labelFontSize": 5.5, "tickSize": 2, "labelPadding": 1, "titlePadding": 1}},
       "color": {"field": "T", "type": "nominal", "legend": null}}},
     {"data": {"values": [{}]}, "mark": {"type": "rect", "filled": false, "stroke": "black", "strokeWidth": 0.8},
      "encoding": {"x": {"datum": -1, "type": "quantitative"}, "x2": {"datum": 55}, "y": {"datum": -9, "type": "quantitative"}, "y2": {"datum": 131}}}
    ]},
    {"data": {"name": "series"}, "transform": [{"filter": "false"}], "mark": {"type": "point", "filled": false, "strokeWidth": 1},
     "encoding": {
      "stroke": {"field": "T", "type": "nominal", "scale": {"domain": ["37°C", "40°C", "45°C"], "range": ["black", "#ff0000", "#0000ff"]}, "legend": {"offset": 4}},
      "shape": {"field": "T", "type": "nominal", "scale": {"domain": ["37°C", "40°C", "45°C"], "range": ["M-3.6,0H-1M1,0H3.6M-1,-1H1V1H-1Z", "M-3.6,0H-1M1,0H3.6M-1,0A1,1,0,1,0,1,0A1,1,0,1,0,-1,0Z", "M-3.6,0.3H-0.85M0.85,0.3H3.6M0,-1L1,0.8H-1Z"]}, "legend": {"offset": 4}}}}
   ],
   "resolve": {"scale": {"x": "independent", "y": "independent", "shape": "independent", "stroke": "independent"}}
  }
 ], "spacing": 100},
 {"hconcat": [
  {"width": 190, "height": 142,
   "layer": [
    {"layer": [
     {"data": {"name": "C_line"}, "mark": {"type": "line", "strokeWidth": 1.4, "interpolate": "monotone"},
      "encoding": {
       "x": {"field": "x", "type": "quantitative", "scale": {"domain": [45, 400], "nice": false, "zero": false}, "axis": {"values": [100, 200, 300, 400], "title": "Mean molecular area  (Å²)"}},
       "y": {"field": "y", "type": "quantitative", "scale": {"domain": [-2.3, 49], "nice": false, "zero": false}, "axis": {"values": [0, 15, 30, 45], "title": "Surface pressure (mN/m)"}},
       "color": {"field": "T", "type": "nominal", "scale": {"domain": ["37°C", "40°C", "45°C"], "range": ["black", "#ff0000", "#0000ff"]}, "legend": null}}},
     {"data": {"name": "C_pts"}, "mark": {"type": "point", "filled": false, "size": 26, "strokeWidth": 1, "opacity": 1},
      "encoding": {
       "x": {"field": "x", "type": "quantitative"},
       "y": {"field": "y", "type": "quantitative"},
       "color": {"field": "T", "type": "nominal", "legend": null},
       "shape": {"field": "T", "type": "nominal", "scale": {"domain": ["37°C", "40°C", "45°C"], "range": ["square", "circle", "triangle-up"]}, "legend": null}}},
     {"data": {"values": [{}]}, "mark": {"type": "text", "align": "center", "baseline": "middle", "fontWeight": "bold", "fontSize": 8.5, "font": "Liberation Serif"},
      "encoding": {"x": {"datum": 199, "type": "quantitative"}, "y": {"datum": 46.8, "type": "quantitative"}, "text": {"value": "subphase: InP/ZnS-NH₂"}}},
     {"data": {"values": [{}]}, "mark": {"type": "text", "align": "center", "baseline": "middle", "fontWeight": "bold", "fontSize": 11, "font": "Liberation Serif"},
      "encoding": {"x": {"datum": 378, "type": "quantitative"}, "y": {"datum": 45, "type": "quantitative"}, "text": {"value": "C"}}}
    ]},
    {"layer": [
     {"data": {"name": "C_in"}, "mark": {"type": "line", "strokeWidth": 1, "interpolate": "monotone"},
      "encoding": {
       "x": {"field": "x", "type": "quantitative", "scale": {"domain": [0, 48], "range": [89, 175], "nice": false, "zero": false}, "axis": {"orient": "bottom", "offset": -46, "values": [0, 15, 30, 45], "title": "Surface pressure (mN/m)", "titleFontSize": 8, "labelFontSize": 5.5, "tickSize": 2, "labelPadding": 1, "titlePadding": 1}},
       "y": {"field": "y", "type": "quantitative", "scale": {"domain": [-12, 205], "range": [96, 21], "nice": false, "zero": false}, "axis": {"orient": "left", "offset": -89, "values": [0, 50, 100, 150, 200], "title": "Cₛ⁻¹ (mN/m)", "titleFontSize": 8.5, "labelFontSize": 5.5, "tickSize": 2, "labelPadding": 1, "titlePadding": 1}},
       "color": {"field": "T", "type": "nominal", "legend": null}}},
     {"data": {"values": [{}]}, "mark": {"type": "rect", "filled": false, "stroke": "black", "strokeWidth": 0.8},
      "encoding": {"x": {"datum": 0, "type": "quantitative"}, "x2": {"datum": 48}, "y": {"datum": -12, "type": "quantitative"}, "y2": {"datum": 205}}}
    ]},
    {"data": {"name": "series"}, "transform": [{"filter": "false"}], "mark": {"type": "point", "filled": false, "strokeWidth": 1},
     "encoding": {
      "stroke": {"field": "T", "type": "nominal", "scale": {"domain": ["37°C", "40°C", "45°C"], "range": ["black", "#ff0000", "#0000ff"]}, "legend": {"offset": 11, "symbolOffset": 7}},
      "shape": {"field": "T", "type": "nominal", "scale": {"domain": ["37°C", "40°C", "45°C"], "range": ["M-3.6,0H-1M1,0H3.6M-1,-1H1V1H-1Z", "M-3.6,0H-1M1,0H3.6M-1,0A1,1,0,1,0,1,0A1,1,0,1,0,-1,0Z", "M-3.6,0.3H-0.85M0.85,0.3H3.6M0,-1L1,0.8H-1Z"]}, "legend": {"offset": 11, "symbolOffset": 7}}}}
   ],
   "resolve": {"scale": {"x": "independent", "y": "independent", "shape": "independent", "stroke": "independent"}}
  },
  {"width": 193, "height": 139,
   "layer": [
    {"layer": [
     {"data": {"name": "D_line"}, "mark": {"type": "line", "strokeWidth": 1.4, "interpolate": "monotone"},
      "encoding": {
       "x": {"field": "x", "type": "quantitative", "scale": {"domain": [23, 400], "nice": false, "zero": false}, "axis": {"values": [100, 200, 300, 400], "title": "Mean molecular area  (Å²)"}},
       "y": {"field": "y", "type": "quantitative", "scale": {"domain": [-5, 64], "nice": false, "zero": false}, "axis": {"values": [0, 20, 40, 60], "title": "Surface pressure (mN/m)"}},
       "color": {"field": "T", "type": "nominal", "scale": {"domain": ["37°C", "40°C", "45°C"], "range": ["black", "#ff0000", "#0000ff"]}, "legend": null}}},
     {"data": {"name": "D_pts"}, "mark": {"type": "point", "filled": false, "size": 26, "strokeWidth": 1, "opacity": 1},
      "encoding": {
       "x": {"field": "x", "type": "quantitative"},
       "y": {"field": "y", "type": "quantitative"},
       "color": {"field": "T", "type": "nominal", "legend": null},
       "shape": {"field": "T", "type": "nominal", "scale": {"domain": ["37°C", "40°C", "45°C"], "range": ["square", "circle", "triangle-up"]}, "legend": null}}},
     {"data": {"values": [{}]}, "mark": {"type": "text", "align": "center", "baseline": "middle", "fontWeight": "bold", "fontSize": 8.5, "font": "Liberation Serif"},
      "encoding": {"x": {"datum": 187, "type": "quantitative"}, "y": {"datum": 58.4, "type": "quantitative"}, "text": {"value": "subphase: InP/ZnS-COOH"}}},
     {"data": {"values": [{}]}, "mark": {"type": "text", "align": "center", "baseline": "middle", "fontWeight": "bold", "fontSize": 11, "font": "Liberation Serif"},
      "encoding": {"x": {"datum": 374, "type": "quantitative"}, "y": {"datum": 57.5, "type": "quantitative"}, "text": {"value": "D"}}}
    ]},
    {"layer": [
     {"data": {"name": "D_in"}, "mark": {"type": "line", "strokeWidth": 1, "interpolate": "monotone"},
      "encoding": {
       "x": {"field": "x", "type": "quantitative", "scale": {"domain": [-1, 57], "range": [105, 190], "nice": false, "zero": false}, "axis": {"orient": "bottom", "offset": -54, "values": [0, 15, 30, 45], "title": "Surface pressure (mN/m)", "titleFontSize": 8, "labelFontSize": 5.5, "tickSize": 2, "labelPadding": 1, "titlePadding": 1}},
       "y": {"field": "y", "type": "quantitative", "scale": {"domain": [-10, 167], "range": [85, 19], "nice": false, "zero": false}, "axis": {"orient": "left", "offset": -105, "values": [0, 40, 80, 120, 160], "title": "Cₛ⁻¹ (mN/m)", "titleFontSize": 8.5, "labelFontSize": 5.5, "tickSize": 2, "labelPadding": 1, "titlePadding": 1}},
       "color": {"field": "T", "type": "nominal", "legend": null}}},
     {"data": {"values": [{}]}, "mark": {"type": "rect", "filled": false, "stroke": "black", "strokeWidth": 0.8},
      "encoding": {"x": {"datum": -1, "type": "quantitative"}, "x2": {"datum": 57}, "y": {"datum": -10, "type": "quantitative"}, "y2": {"datum": 167}}}
    ]},
    {"data": {"name": "series"}, "transform": [{"filter": "false"}], "mark": {"type": "point", "filled": false, "strokeWidth": 1},
     "encoding": {
      "stroke": {"field": "T", "type": "nominal", "scale": {"domain": ["37°C", "40°C", "45°C"], "range": ["black", "#ff0000", "#0000ff"]}, "legend": {"offset": 5}},
      "shape": {"field": "T", "type": "nominal", "scale": {"domain": ["37°C", "40°C", "45°C"], "range": ["M-3.6,0H-1M1,0H3.6M-1,-1H1V1H-1Z", "M-3.6,0H-1M1,0H3.6M-1,0A1,1,0,1,0,1,0A1,1,0,1,0,-1,0Z", "M-3.6,0.3H-0.85M0.85,0.3H3.6M0,-1L1,0.8H-1Z"]}, "legend": {"offset": 5}}}}
   ],
   "resolve": {"scale": {"x": "independent", "y": "independent", "shape": "independent", "stroke": "independent"}}
  }
 ], "spacing": 72}
],
"spacing": 12
}
